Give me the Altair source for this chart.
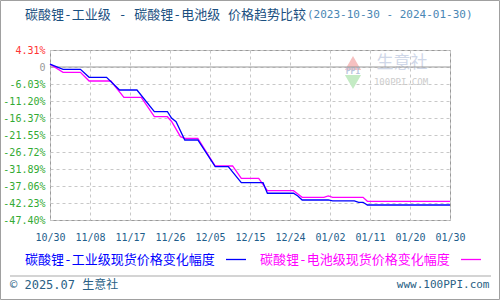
import altair as alt
import pandas as pd

# ---- data ----
ind_dates = ["2023-10-30", "2023-11-02", "2023-11-06", "2023-11-08", "2023-11-12",
             "2023-11-15", "2023-11-19", "2023-11-23", "2023-11-26", "2023-11-27",
             "2023-11-28", "2023-11-30", "2023-12-03", "2023-12-07", "2023-12-10",
             "2023-12-13", "2023-12-18", "2023-12-19", "2023-12-25", "2023-12-26",
             "2023-12-27", "2024-01-02", "2024-01-03", "2024-01-08", "2024-01-09",
             "2024-01-10", "2024-01-11", "2024-01-30"]
ind_values = [0.00, -1.56, -1.56, -3.99, -3.99,
              -7.86, -7.86, -14.46, -14.46, -16.46,
              -17.50, -23.06, -23.06, -31.18, -31.18,
              -36.05, -36.05, -39.27, -39.27, -40.09,
              -41.31, -41.31, -41.61, -41.61, -42.01,
              -42.01, -42.83, -42.83]

bat_dates = ["2023-10-30", "2023-11-02", "2023-11-06", "2023-11-08", "2023-11-13",
             "2023-11-16", "2023-11-20", "2023-11-23", "2023-11-26", "2023-11-27",
             "2023-11-29", "2023-11-30", "2023-12-03", "2023-12-07", "2023-12-11",
             "2023-12-13", "2023-12-17", "2023-12-19", "2023-12-25", "2023-12-26",
             "2023-12-27", "2024-01-01", "2024-01-02", "2024-01-03", "2024-01-10",
             "2024-01-11", "2024-01-30"]
bat_values = [0.00, -2.47, -2.47, -5.12, -5.12,
              -10.08, -10.08, -15.98, -15.98, -17.50,
              -22.06, -22.55, -22.55, -30.97, -30.97,
              -34.71, -34.71, -38.48, -38.48, -39.49,
              -40.49, -40.49, -40.09, -40.49, -40.49,
              -41.71, -41.71]

x_labels = ["10/30", "11/08", "11/17", "11/26", "12/05", "12/15",
            "12/24", "01/02", "01/11", "01/20", "01/30"]
y_labels = ["4.31%", "0", "-6.03%", "-11.20%", "-16.37%", "-21.55%",
            "-26.72%", "-31.89%", "-37.06%", "-42.23%", "-47.40%"]

title_main = "碳酸锂-工业级 - 碳酸锂-电池级 价格趋势比较"
title_range = "(2023-10-30 - 2024-01-30)"
legend_ind = "碳酸锂-工业级现货价格变化幅度"
legend_bat = "碳酸锂-电池级现货价格变化幅度"
footer_left = "© 2025.07 生意社"
footer_right = "www.100PPI.com"

# ---- build tables ----
start = pd.Timestamp("2023-10-30")
def frame(dates, values):
    d = pd.to_datetime(pd.Series(dates))
    return pd.DataFrame({"day": (d - start).dt.days, "value": values})

ind_df = frame(ind_dates, ind_values)
bat_df = frame(bat_dates, bat_values)

Y_TOP, Y_BOT = 4.31, -47.40
STEP_Y = (Y_TOP - Y_BOT) / 10
y_ticks = [Y_TOP - STEP_Y * k for k in range(11)]
X_MAX = 92
STEP_X = X_MAX / 10
x_ticks = [STEP_X * k for k in range(11)]

x_lab_js = "[" + ",".join("'%s'" % s for s in x_labels) + "]"
y_lab_js = "[" + ",".join("'%s'" % s for s in y_labels) + "]"

MONO = "DejaVu Sans Mono"
MIX = "DejaVu Sans Mono, Noto Sans CJK SC"

x_scale = alt.Scale(domain=[0, X_MAX], nice=False, zero=False)
y_scale = alt.Scale(domain=[Y_BOT, Y_TOP], nice=False, zero=False)

xs = alt.X("day:Q", scale=x_scale,
           axis=alt.Axis(values=x_ticks, title=None, ticks=False, domain=False,
                         labelExpr=x_lab_js + "[round(datum.value/%f)]" % STEP_X,
                         labelFont=MONO, labelFontSize=10, labelColor="#1f5e8c",
                         labelPadding=12, labelFlush=False, labelOverlap=False,
                         grid=True, gridColor="#c8c8c8", gridDash=[3, 3], gridWidth=1))
ys = alt.Y("value:Q", scale=y_scale,
           axis=alt.Axis(values=y_ticks, title=None, ticks=False, domain=False,
                         labelExpr=y_lab_js + "[round((%f - datum.value)/%f)]" % (Y_TOP, STEP_Y),
                         labelFont=MONO, labelFontSize=10, labelPadding=5,
                         labelFlush=False, labelOverlap=False,
                         labelColor={"condition": [
                             {"test": "datum.value > 1", "value": "#ff3333"},
                             {"test": "datum.value > -3", "value": "#999999"}],
                             "value": "#33aa33"},
                         grid=True, gridColor="#c8c8c8", gridDash=[3, 3], gridWidth=1))

one = pd.DataFrame({"a": [0]})

def txt(text, x, y, size, color, align="left", font=MIX, weight="normal"):
    return alt.Chart(one).mark_text(align=align, baseline="middle", fontSize=size,
                                    font=font, color=color, fontWeight=weight).encode(
        x=alt.value(x), y=alt.value(y), text=alt.value(text))

def hline(x1, x2, y, color, width=1.0):
    return alt.Chart(one).mark_rule(color=color, strokeWidth=width).encode(
        x=alt.value(x1), x2=alt.value(x2), y=alt.value(y))

base_ind = alt.Chart(ind_df).mark_line(color="#0000ff", strokeWidth=1.3).encode(x=xs, y=ys)
base_bat = alt.Chart(bat_df).mark_line(color="#ff00ff", strokeWidth=1.3).encode(x=xs, y=ys)

zero_line = alt.Chart(pd.DataFrame({"value": [y_ticks[1]]})).mark_rule(
    color="#999999", strokeWidth=1).encode(y=ys)

# faint watermark
wm_up = alt.Chart(one).mark_point(shape="triangle-up", filled=True, color="#f6c0c0",
                                  size=260, opacity=1).encode(x=alt.value(303), y=alt.value(13))
wm_down = alt.Chart(one).mark_point(shape="triangle-down", filled=True, color="#c4ebc4",
                                    size=260, opacity=1).encode(x=alt.value(303), y=alt.value(32))
wm_ppi = txt("PPI", 303, 22, 8, "#b8c4dc", align="center", font=MONO, weight="bold")
wm_name = txt("生意社", 352, 13, 17, "#cfd7e8", align="center", font="Noto Sans CJK SC")
wm_url = txt("100PPI.COM", 351, 32, 9, "#cccccc", align="center", font=MONO)

border = alt.Chart(one).mark_rect(fillOpacity=0, stroke="#a0a0a0", strokeWidth=1).encode(
    x=alt.value(-49.5), x2=alt.value(449.5), y=alt.value(-49.5), y2=alt.value(249.5))

layers = [
    wm_up, wm_down, wm_ppi, wm_name, wm_url,
    zero_line, base_bat, base_ind,
    txt(title_main, -25, -35, 13, "#1a4f80"),
    txt(title_range, 257, -35, 11, "#4a86b4", font=MONO),
    txt(legend_ind, -25, 210, 13, "#0000ff"),
    hline(176, 196, 209.5, "#0000ff", 1.3),
    txt(legend_bat, 210, 210, 13, "#ff00ff"),
    hline(411, 431, 209.5, "#ff00ff", 1.3),
    hline(-40, 441, 226, "#aaaaaa", 1.2),
    txt(footer_left, -40, 235, 12, "#2a5f85"),
    txt(footer_right, 439.5, 235, 11, "#2a5f85", align="right", font=MONO),
    border,
]

chart = alt.layer(*layers).properties(
    width=400, height=170,
    autosize=alt.AutoSizeParams(type="none"),
    padding={"left": 50, "top": 50, "right": 50, "bottom": 80},
    background="white",
).configure_view(stroke="#999999", strokeWidth=1)

chart.save("out.html", embed_options={"renderer": "svg", "actions": False})
